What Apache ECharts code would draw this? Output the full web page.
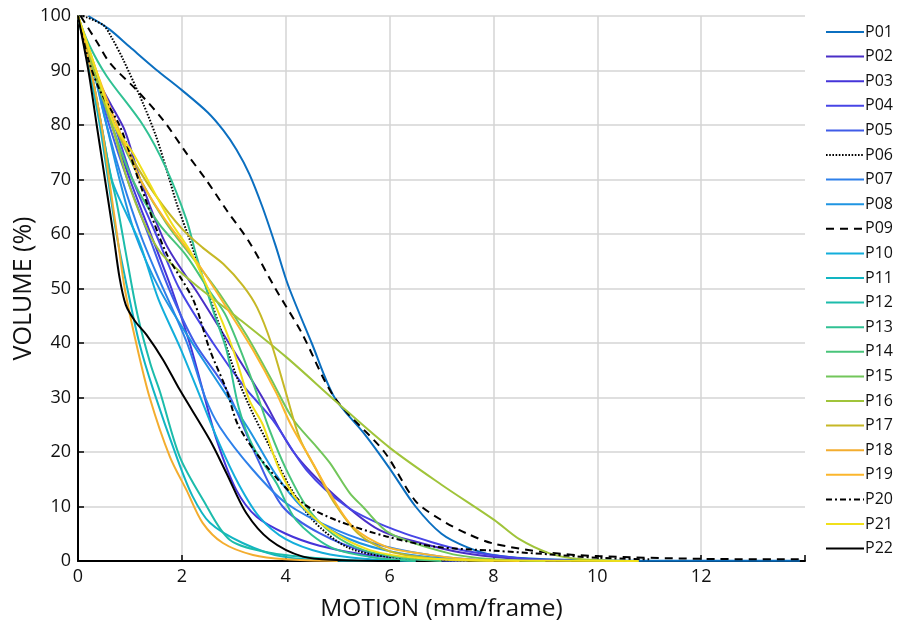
<!DOCTYPE html>
<html>
<head>
<meta charset="utf-8">
<script src="https://cdn.jsdelivr.net/npm/echarts@6/dist/echarts.min.js"></script>
<style>html,body{margin:0;padding:0;background:#fff}#c{width:897px;height:625px}</style>
</head>
<body>
<div id="c"></div>
<script>
// Tick values
const xTicks = [0, 2, 4, 6, 8, 10, 12];
const yTicks = [0, 10, 20, 30, 40, 50, 60, 70, 80, 90, 100];
const seriesNames = ['P01','P02','P03','P04','P05','P06','P07','P08','P09','P10','P11','P12','P13','P14','P15','P16','P17','P18','P19','P20','P21','P22'];

// Series values: [motion (mm/frame), volume (%)]
const P01 = [[0.2,100],[0.6,97.6],[1.0,94.3],[1.5,90.2],[2,86.4],[2.5,82.3],[2.8,79],[3.05,75.5],[3.3,71],[3.55,65],[3.8,58],[4.05,50.5],[4.5,40],[4.94,30],[5.5,23.5],[6,17],[6.5,10],[7,5],[7.5,2.5],[8,1.1],[9,0.3],[10.8,0.05],[13.9,0.05]];
const P02 = [[0,100],[0.3,90],[0.62,84],[0.9,79],[1.2,70],[1.7,58],[2.35,48.5],[2.99,38.7],[3.55,30],[4.15,20],[4.97,11.8],[5.8,5.7],[6.6,3.3],[7.4,1.5],[8.3,0.5],[9.2,0.1]];
const P03 = [[0,100],[0.3,90],[0.65,80],[1.0,70],[1.4,60],[1.8,50],[2.15,40],[2.4,31.4],[2.67,22.2],[3.05,13],[3.44,8.1],[4.0,5],[4.65,2.8],[5.5,1.2],[6.5,0.4],[7.5,0]];
const P04 = [[0,100],[0.3,90],[0.7,80],[1.05,70],[1.5,60],[1.95,50],[2.6,40],[3.2,32],[3.75,25.9],[4.4,16.7],[5.17,10],[5.94,6.3],[6.8,3.5],[7.5,1.8],[8.5,0.5],[9.5,0.1]];
const P05 = [[0,100],[0.3,90],[0.6,80],[0.95,70],[1.35,60],[1.75,50],[2.25,40],[2.86,31.4],[3.44,19.1],[3.94,10],[4.65,5.1],[5.6,1.5],[6.5,0.3],[7.5,0]];
const P06 = [[0.1,100],[0.49,98.3],[0.65,96],[0.87,92],[1.25,84],[1.5,78],[1.7,72],[1.9,65.6],[2.15,59],[2.35,53.4],[2.73,43],[3.05,34],[3.37,27],[3.69,21],[4.08,13.6],[4.52,7.5],[5.17,2.6],[5.94,0.8],[7,0.2],[8,0]];
const P07 = [[0,100],[0.3,90],[0.55,80],[0.85,70],[1.2,60],[1.5,53],[2.1,40],[2.45,30],[2.73,24.6],[3.37,16.7],[4.01,10.6],[4.97,5.7],[5.94,2.6],[7,0.8],[8,0.1]];
const P08 = [[0,100],[0.3,90],[0.55,80],[0.8,70],[1.1,60],[1.58,49.7],[2.2,40],[2.75,32],[3.3,24],[3.8,16],[4.3,10],[5.0,5],[5.9,2],[7,0.5],[8,0]];
const P09 = [[0.05,100],[0.38,95],[0.62,91.3],[1.13,86.4],[1.64,80.9],[2.09,74.8],[2.47,69.9],[2.86,64.4],[3.3,58.5],[3.8,50],[4.3,42],[4.94,30],[5.9,20],[6.5,11],[7,7.5],[7.5,5],[8,3.2],[9,1.6],[10,0.9],[12,0.4],[14,0.3]];
const P10 = [[0,100],[0.25,90],[0.45,80],[0.65,70],[0.81,66.2],[1.19,58.3],[1.55,48],[1.96,39.3],[2.3,31.4],[2.7,22],[3.1,14],[3.5,8],[4.0,4],[4.7,1.5],[5.5,0.4],[6.5,0]];
const P11 = [[0,100],[0.22,90],[0.42,80],[0.58,70],[0.74,60],[0.95,50],[1.18,40],[1.45,31.4],[1.9,19.1],[2.2,12],[2.54,7],[3.17,3.3],[3.94,0.8],[5,0.1],[6,0]];
const P12 = [[0,100],[0.25,90],[0.45,80],[0.62,71],[0.74,66],[0.95,55],[1.15,45],[1.4,36],[1.58,31],[1.96,19.1],[2.41,11.2],[2.92,3.9],[3.69,1.5],[4.65,0.5],[5.5,0]];
const P13 = [[0,100],[0.2,95],[0.55,89],[1.25,80],[1.7,72],[2.09,62.6],[2.28,56],[2.6,46],[2.86,38.7],[3.1,28],[3.37,21],[3.82,14.3],[4.2,7.5],[4.85,2.6],[5.6,0.8],[6.5,0]];
const P14 = [[0,100],[0.3,90],[0.65,80],[1.05,70],[1.55,62],[2.09,56],[2.5,50],[2.86,44.8],[3.37,32.7],[3.69,24],[4.0,17],[4.4,10],[4.9,5],[5.5,2],[6.3,0.5],[7,0]];
const P15 = [[0,100],[0.3,90],[0.7,80],[1.2,70],[1.7,62],[2.22,55.5],[2.73,49],[3.24,41.5],[3.69,33.9],[4.14,26],[4.59,21],[4.85,18],[5.23,12.5],[5.48,10],[6.0,5.1],[7.15,1.4],[8,0.3],[9,0]];
const P16 = [[0,100],[0.3,90],[0.65,80],[0.95,70],[1.25,62.5],[1.6,56.5],[2.22,51],[3,45.2],[4,37.5],[5,29],[6,20.8],[7,14],[8.02,7.5],[8.5,4],[9.08,1.4],[9.6,0.4],[10.5,0]];
const P17 = [[0,100],[0.35,90],[0.7,80],[1.06,73.6],[1.5,67],[2.0,61],[2.4,57.5],[2.8,54.5],[3.18,50.5],[3.45,46.5],[3.72,40],[4.0,31],[4.27,22.5],[4.6,16.5],[4.9,11.2],[5.4,5],[6.0,1.8],[7,0.3],[8,0]];
const P18 = [[0,100],[0.25,90],[0.45,80],[0.6,70],[0.75,60],[0.9,50],[1.12,40],[1.38,30],[1.77,19.1],[2.09,13],[2.4,7],[2.79,3.3],[3.37,1.1],[4,0.3],[5,0]];
const P19 = [[0,100],[0.35,90],[0.75,80],[1.2,70],[1.65,63],[2.28,55],[2.86,46.5],[3.37,38.7],[3.82,30.8],[4.1,25],[4.52,18],[4.85,12.4],[5.29,6.3],[5.94,2.6],[6.58,1.4],[7.5,0.3],[8.5,0]];
const P20 = [[0,100],[0.2,92],[0.42,86.4],[0.81,79.7],[1.19,69.3],[1.7,56.5],[2.22,47.9],[2.54,38.7],[2.86,31.4],[3.1,24.6],[3.69,16.7],[4.33,10.6],[4.97,7.5],[5.94,4.5],[6.9,2.6],[8,1.9],[9.1,1.2],[10,0.6],[11,0.3]];
const P21 = [[0,100],[0.35,90],[0.7,80],[1.06,74.8],[1.45,68],[1.8,62],[2.15,57],[2.6,47.9],[2.99,38.7],[3.3,29.5],[3.56,25],[3.88,16.7],[4.27,10.6],[4.85,5.7],[5.62,2],[6.5,0.6],[8,0.1],[10.8,0]];
const P22 = [[0,100],[0.2,90],[0.36,80],[0.52,70],[0.68,60],[0.8,52],[0.92,47],[1.1,44],[1.32,41.5],[1.64,36.9],[1.96,31.4],[2.54,22.2],[2.86,16.1],[3.24,8.8],[3.69,3.9],[4.33,0.8],[5,0.2],[6.2,0]];

const seriesData = [P01,P02,P03,P04,P05,P06,P07,P08,P09,P10,P11,P12,P13,P14,P15,P16,P17,P18,P19,P20,P21,P22];

// styles
const lineColors = ['#0b6fc0','#4a2fc7','#4534d9','#4745e6','#405ce8','#000000','#2e80ea','#1f95e2','#000000','#13aedb','#12b5c2','#1cbcab','#30c193','#48c47a','#72c65a','#a0c43a','#c6b826','#f3ad2f','#fbb62c','#000000','#f0e01b','#000000'];
const lineTypes = {P06:[1.6,1.6], P09:[8,6], P20:[6,3,2,3]};

const chart = echarts.init(document.getElementById('c'), null, {renderer:'canvas'});
const font = '"Open Sans", sans-serif';
const series = seriesNames.map((n, i) => ({
  name: n,
  type: 'line',
  data: seriesData[i],
  showSymbol: false,
  symbol: 'none',
  smooth: 0.3,
  lineStyle: { width: 2, color: lineColors[i], type: lineTypes[n] || 'solid' },
  itemStyle: { color: lineColors[i] },
  emphasis: { disabled: true },
  z: 2 + i
}));

chart.setOption({
  animation: false,
  grid: { left: 78, right: 92, top: 16, bottom: 64, containLabel: false, outerBoundsMode: 'none' },
  legend: {
    orient: 'vertical',
    left: 820,
    top: 19,
    itemWidth: 38,
    itemHeight: 14,
    itemGap: 8.6,
    data: seriesNames,
    itemStyle: { opacity: 0 },
    textStyle: { fontFamily: font, fontSize: 16, color: '#111', padding: [0,0,0,-4] }
  },
  xAxis: {
    type: 'value', min: 0, max: 14, interval: 2,
    name: 'MOTION (mm/frame)', nameLocation: 'middle', nameGap: 36,
    nameTextStyle: { fontFamily: font, fontSize: 24.5, color: '#111' },
    axisLine: { show: true, onZero: false, lineStyle: { color: '#000', width: 2 } },
    axisTick: { show: true, inside: true, length: 6, lineStyle: { color: '#000', width: 1.5 } },
    axisLabel: { fontFamily: font, fontSize: 18, color: '#111', margin: 7,
      formatter: v => xTicks.indexOf(v) >= 0 ? String(v) : '' },
    splitLine: { show: true, lineStyle: { color: ['#d4d4d4','#d4d4d4','#d4d4d4','#d4d4d4','#d4d4d4','#d4d4d4','#d4d4d4','rgba(0,0,0,0)'], width: 1.5 } }
  },
  yAxis: {
    type: 'value', min: 0, max: 100, interval: 10,
    name: 'VOLUME (%)', nameLocation: 'middle', nameGap: 42, nameRotate: 90, nameMoveOverlap: false,
    nameTextStyle: { fontFamily: font, fontSize: 25, color: '#111' },
    axisLine: { show: true, lineStyle: { color: '#000', width: 2 } },
    axisTick: { show: true, inside: true, length: 6, lineStyle: { color: '#000', width: 1.5 } },
    axisLabel: { fontFamily: font, fontSize: 18, color: '#111', margin: 7,
      formatter: v => yTicks.indexOf(v) >= 0 ? String(v) : '' },
    splitLine: { show: true, lineStyle: { color: '#d4d4d4', width: 1.5 } }
  },
  series: series
});
</script>
</body>
</html>
